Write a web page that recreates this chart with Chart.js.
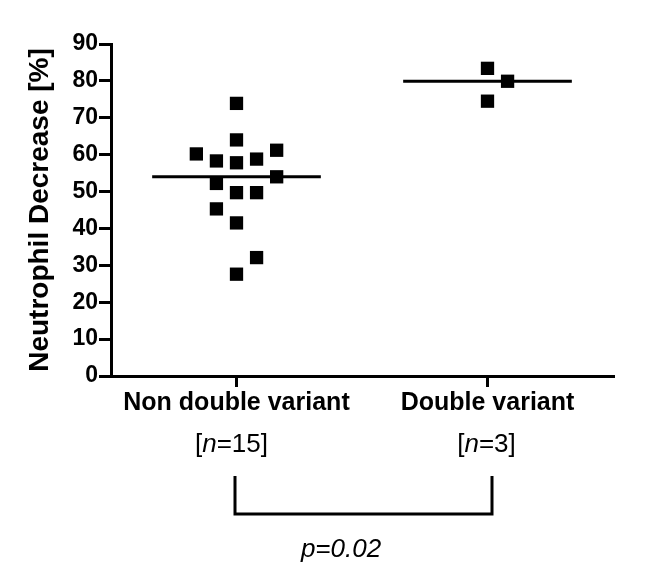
<!DOCTYPE html>
<html>
<head>
<meta charset="utf-8">
<script src="https://cdn.jsdelivr.net/npm/chart.js@4/dist/chart.umd.min.js"></script>
<style>
  html, body { margin: 0; padding: 0; background: #ffffff; }
  #wrap { width: 646px; height: 576px; position: relative; }
</style>
</head>
<body>
<div id="wrap"><canvas id="c" width="646" height="576"></canvas></div>
<script>
// ---- Data ----
const categories = ["Non double variant", "Double variant"];
const groupSizes = ["15", "3"];
const yTicks = [0, 10, 20, 30, 40, 50, 60, 70, 80, 90];
const yTitle = "Neutrophil Decrease [%]";
const pValueText = "0.02";

// Non double variant: values and horizontal jitter (in category units)
const nonDoubleValues = [73.9, 64.0, 60.2, 61.2, 58.3, 57.8, 58.8, 54.0, 52.2, 49.7, 49.7, 45.3, 41.5, 32.1, 27.6];
const nonDoubleJitter = [0, 0, -0.16, 0.16, -0.08, 0, 0.08, 0.16, -0.08, 0, 0.08, -0.08, 0, 0.08, 0];
// Double variant
const doubleValues = [83.4, 79.9, 74.5];
const doubleJitter = [0, 0.08, 0];
// Median lines
const medians = [54.0, 79.9];
const medianHalfWidth = 0.336;

// ---- Build datasets ----
function pts(cat, vals, jit) { return vals.map((v, i) => ({ x: cat + jit[i], y: v })); }
const FONT = '"Liberation Sans", Arial, Helvetica, sans-serif';

const datasets = [
  {
    type: 'scatter', data: pts(1, nonDoubleValues, nonDoubleJitter),
    pointStyle: 'rect', pointRadius: 9.4, pointHoverRadius: 9.4,
    backgroundColor: '#000', borderColor: '#000', borderWidth: 0
  },
  {
    type: 'scatter', data: pts(2, doubleValues, doubleJitter),
    pointStyle: 'rect', pointRadius: 9.4, pointHoverRadius: 9.4,
    backgroundColor: '#000', borderColor: '#000', borderWidth: 0
  }
];
medians.forEach((m, i) => {
  datasets.push({
    type: 'line',
    data: [{ x: i + 1 - medianHalfWidth, y: m }, { x: i + 1 + medianHalfWidth, y: m }],
    borderColor: '#000', borderWidth: 3, pointRadius: 0, fill: false
  });
});

// ---- Annotation plugin: category labels, n labels, bracket, p value ----
const annot = {
  id: 'annot',
  afterDraw(chart) {
    const ctx = chart.ctx;
    const xs = chart.scales.x;
    const px = categories.map((c, i) => xs.getPixelForValue(i + 1));
    ctx.save();
    ctx.fillStyle = '#000';
    ctx.textBaseline = 'alphabetic';
    // category labels
    ctx.font = 'bold 25px ' + FONT;
    ctx.textAlign = 'center';
    categories.forEach((c, i) => ctx.fillText(c, px[i], 410));
    // n labels with italic n
    const nShift = [-5, -1];
    groupSizes.forEach((n, i) => {
      const parts = [
        { t: '[', f: '26px ' + FONT },
        { t: 'n', f: 'italic 26px ' + FONT },
        { t: '=' + n + ']', f: '26px ' + FONT }
      ];
      let total = 0;
      parts.forEach(p => { ctx.font = p.f; p.w = ctx.measureText(p.t).width; total += p.w; });
      let x = px[i] + nShift[i] - total / 2;
      ctx.textAlign = 'left';
      parts.forEach(p => { ctx.font = p.f; ctx.fillText(p.t, x, 452); x += p.w; });
    });
    // bracket
    ctx.strokeStyle = '#000';
    ctx.lineWidth = 3;
    ctx.lineJoin = 'miter';
    ctx.beginPath();
    ctx.moveTo(px[0] - 1.5, 476);
    ctx.lineTo(px[0] - 1.5, 514);
    ctx.lineTo(px[1] + 4.5, 514);
    ctx.lineTo(px[1] + 4.5, 476);
    ctx.stroke();
    // p value
    ctx.font = 'italic 26px ' + FONT;
    ctx.textAlign = 'center';
    ctx.fillText('p=' + pValueText, 341, 557);
    ctx.restore();
  }
};

new Chart(document.getElementById('c'), {
  data: { datasets },
  options: {
    responsive: false,
    animation: false,
    events: [],
    layout: { padding: { left: 0, top: 44, right: 33, bottom: 0 } },
    plugins: { legend: { display: false }, tooltip: { enabled: false } },
    scales: {
      x: {
        type: 'linear', min: 0.5, max: 2.5,
        afterBuildTicks: s => { s.ticks = categories.map((c, i) => ({ value: i + 1 })); },
        afterFit: s => { s.height = 200; },
        ticks: { display: false },
        grid: { drawOnChartArea: false, drawTicks: true, tickLength: 11, color: '#000', lineWidth: 3 },
        border: { display: true, color: '#000', width: 3 }
      },
      y: {
        type: 'linear', min: 0, max: 90,
        afterBuildTicks: s => { s.ticks = yTicks.map(v => ({ value: v })); },
        afterFit: s => { s.width = 111; },
        ticks: { color: '#000', padding: 1, font: { family: FONT, size: 23, weight: 'bold' } },
        grid: { drawOnChartArea: false, drawTicks: true, tickLength: 12, color: '#000', lineWidth: 3 },
        border: { display: true, color: '#000', width: 3 },
        title: {
          display: true, text: yTitle, color: '#000',
          font: { family: FONT, size: 28, weight: 'bold' },
          padding: { top: 23, bottom: 0 }
        }
      }
    }
  },
  plugins: [annot]
});
</script>
</body>
</html>
